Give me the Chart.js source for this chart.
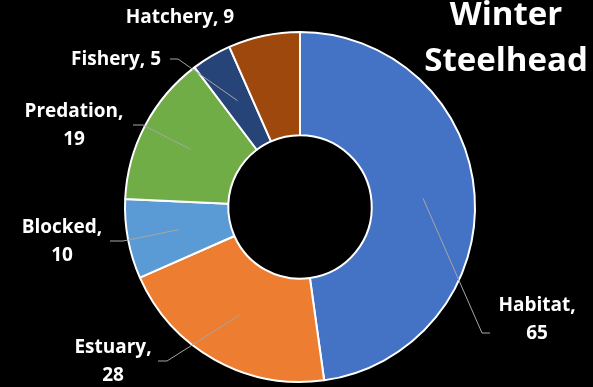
<!DOCTYPE html>
<html>
<head>
<meta charset="utf-8">
<script src="https://cdn.jsdelivr.net/npm/chart.js@4"></script>
<style>
  html, body { margin: 0; padding: 0; background: #000; }
  #wrap { position: relative; width: 593px; height: 387px; }
</style>
</head>
<body>
<div id="wrap"><canvas id="donut"></canvas></div>
<script>
// ===== data =====
const categories = ['Habitat', 'Estuary', 'Blocked', 'Predation', 'Fishery', 'Hatchery'];
const counts = [65, 28, 10, 19, 5, 9];
const titleLines = ['Winter', 'Steelhead'];

// ===== styles =====
const sliceColors = ['#4472C4', '#ED7D31', '#5B9BD5', '#70AD47', '#264478', '#9E480E'];
const LABEL_FONT = 'bold 19px "Open Sans", sans-serif';
const TITLE_FONT = 'bold 33px "Open Sans", sans-serif';

// label placement, offsets from the doughnut centre (text block centre, leader end, elbow)
const labelLayout = [
  { tx: 237, ty: 113, two: true, ex: 190, ey: 126, bx: 182 },
  { tx: -187, ty: 155, two: true, ex: -142, ey: 154, bx: -133 },
  { tx: -238, ty: 35, two: true, ex: -190, ey: 34, bx: -177 },
  { tx: -226, ty: -81, two: true, ex: -167, ey: -82, bx: -157 },
  { tx: -184, ty: -147, two: false, ex: -130, ey: -148, bx: -122 },
  { tx: -120, ty: -189, two: false, ex: null }
];

const dataLabels = {
  id: 'dataLabels',
  afterDatasetsDraw(chart) {
    const ctx = chart.ctx;
    const arcs = chart.getDatasetMeta(0).data;
    ctx.save();
    arcs.forEach((arc, i) => {
      const cx = arc.x, cy = arc.y;
      const L = labelLayout[i];
      if (L.ex !== null) {
        const p = arc.tooltipPosition();
        ctx.strokeStyle = '#A6A6A6';
        ctx.lineWidth = 1;
        ctx.beginPath();
        ctx.moveTo(p.x, p.y);
        ctx.lineTo(cx + L.bx, cy + L.ey);
        ctx.lineTo(cx + L.ex, cy + L.ey);
        ctx.stroke();
      }
      ctx.fillStyle = '#fff';
      ctx.font = LABEL_FONT;
      ctx.textAlign = 'center';
      ctx.textBaseline = 'middle';
      const name = categories[i] + ',';
      const val = String(counts[i]);
      if (L.two) {
        ctx.fillText(name, cx + L.tx, cy + L.ty - 14);
        ctx.fillText(val, cx + L.tx, cy + L.ty + 14);
      } else {
        ctx.fillText(name + ' ' + val, cx + L.tx, cy + L.ty);
      }
    });
    ctx.restore();
  }
};

const titleText = {
  id: 'titleText',
  afterDraw(chart) {
    const ctx = chart.ctx;
    ctx.save();
    ctx.fillStyle = '#fff';
    ctx.font = TITLE_FONT;
    ctx.textAlign = 'center';
    ctx.textBaseline = 'middle';
    titleLines.forEach((t, i) => ctx.fillText(t, 506, 16 + i * 46));
    ctx.restore();
  }
};

new Chart(document.getElementById('donut').getContext('2d'), {
  type: 'doughnut',
  data: {
    labels: categories,
    datasets: [{
      data: counts,
      backgroundColor: sliceColors,
      borderColor: '#fff',
      borderWidth: 2
    }]
  },
  options: {
    responsive: true, maintainAspectRatio: false, animation: false,
    cutout: '41%',
    layout: { padding: { left: 124, right: 117, top: 31, bottom: 4 } },
    plugins: { legend: { display: false }, tooltip: { enabled: false } }
  },
  plugins: [dataLabels, titleText]
});
</script>
</body>
</html>
